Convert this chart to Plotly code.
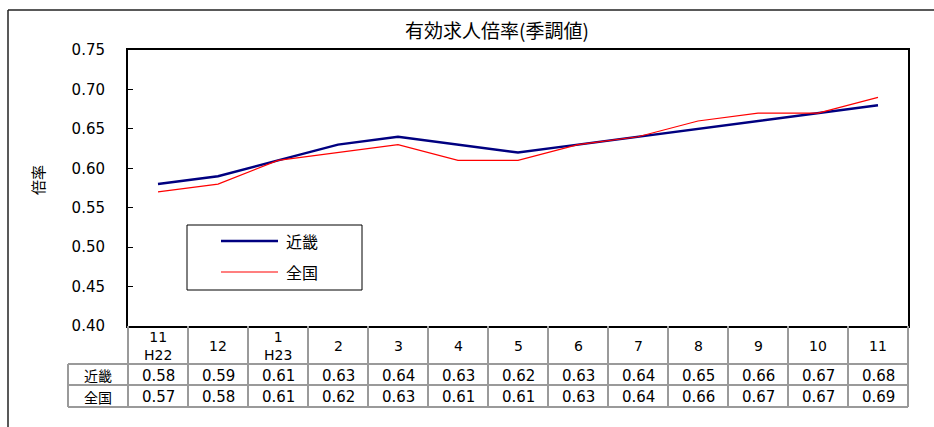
import plotly.graph_objects as go

# ---- data ----
months = ["11<br>H22", "12", "1<br>H23", "2", "3", "4", "5", "6", "7", "8", "9", "10", "11"]
kinki = [0.58, 0.59, 0.61, 0.63, 0.64, 0.63, 0.62, 0.63, 0.64, 0.65, 0.66, 0.67, 0.68]
zenkoku = [0.57, 0.58, 0.61, 0.62, 0.63, 0.61, 0.61, 0.63, 0.64, 0.66, 0.67, 0.67, 0.69]
series_names = ["近畿", "全国"]
y_ticks = [0.40, 0.45, 0.50, 0.55, 0.60, 0.65, 0.70, 0.75]

# ---- layout constants (pixels) ----
W, H = 934, 427
L, R, T, B = 128, 908, 50, 326
PW, PH = R - L, B - T
n = len(months)
cw = PW / n

def px(x):
    return (x - L) / PW

def py(y):
    return (B - y) / PH

NUM_FONT = "DejaVu Sans"
CJK_FONT = "Noto Sans CJK JP"
NAVY = "#000080"
RED = "#ff0000"
GRID = "#9a9a9a"

x_idx = list(range(n))
fig = go.Figure()
fig.add_trace(go.Scatter(x=x_idx, y=kinki, mode="lines", name=series_names[0],
                         line=dict(color=NAVY, width=2.5), showlegend=False))
fig.add_trace(go.Scatter(x=x_idx, y=zenkoku, mode="lines", name=series_names[1],
                         line=dict(color=RED, width=1.2), showlegend=False))

shapes = []
ann = []

def text(x, y, s, font, size, xanchor="center", angle=0):
    ann.append(dict(x=x, y=y, xref="paper", yref="paper", text=s, showarrow=False,
                    xanchor=xanchor, yanchor="middle", textangle=angle,
                    font=dict(family=font, size=size, color="#000")))

# outer frame (left + top edges visible)
shapes.append(dict(type="line", xref="paper", yref="paper", x0=px(8), x1=px(8),
                   y0=py(10), y1=py(430), line=dict(color="#222", width=1.5)))
shapes.append(dict(type="line", xref="paper", yref="paper", x0=px(8), x1=px(940),
                   y0=py(10), y1=py(10), line=dict(color="#222", width=1.5)))

# data table
r0, r1, r2, r3 = 326, 364, 385, 407
lab_left = 68
for k in range(n + 1):
    xx = px(L + k * cw)
    shapes.append(dict(type="line", xref="paper", yref="paper", x0=xx, x1=xx,
                       y0=py(r0), y1=py(r3), line=dict(color=GRID, width=2)))
shapes.append(dict(type="line", xref="paper", yref="paper", x0=px(lab_left), x1=px(lab_left),
                   y0=py(r1), y1=py(r3), line=dict(color=GRID, width=2)))
for yy in (r1, r2, r3):
    shapes.append(dict(type="line", xref="paper", yref="paper", x0=px(lab_left), x1=px(R),
                       y0=py(yy), y1=py(yy), line=dict(color=GRID, width=2)))

for i, m in enumerate(months):
    xc = (i + 0.5) / n
    text(xc, py((r0 + r1) / 2 + 1), m, NUM_FONT, 14)
    text(xc, py((r1 + r2) / 2 + 1), f"{kinki[i]:.2f}", NUM_FONT, 15)
    text(xc, py((r2 + r3) / 2 + 1), f"{zenkoku[i]:.2f}", NUM_FONT, 15)
for nm, yy in zip(series_names, [(r1 + r2) / 2, (r2 + r3) / 2]):
    text(px((lab_left + L) / 2), py(yy + 0.5), nm, CJK_FONT, 14)

# legend box
shapes.append(dict(type="rect", xref="paper", yref="paper", x0=px(187), x1=px(362),
                   y0=py(225), y1=py(290), line=dict(color="#000", width=1), fillcolor="white"))
leg_rows = [(241, NAVY, 2.5), (272, RED, 1.2)]
for (yy, col, wd), nm in zip(leg_rows, series_names):
    shapes.append(dict(type="line", xref="paper", yref="paper", x0=px(221), x1=px(278),
                       y0=py(yy), y1=py(yy), line=dict(color=col, width=wd)))
    text(px(284), py(yy), nm, CJK_FONT, 16, xanchor="left")

# y-axis title
text(px(37), py(180), "倍率", CJK_FONT, 15, angle=-90)

fig.update_layout(
    width=W, height=H,
    margin=dict(l=L, r=W - R, t=T, b=H - B, pad=0),
    paper_bgcolor="white", plot_bgcolor="white",
    title=dict(text="有効求人倍率(季調値)", x=497 / W, xanchor="center", y=1 - 31 / H, yanchor="middle",
               yref="container", font=dict(family=CJK_FONT, size=19, color="#000")),
    shapes=shapes, annotations=ann, showlegend=False,
    xaxis=dict(range=[-0.5, n - 0.5], showticklabels=False, ticks="", showgrid=False,
               zeroline=False, showline=True, linecolor="#000", linewidth=1.5, mirror=True,
               fixedrange=True),
    yaxis=dict(range=[0.40, 0.75], tickvals=y_ticks, tickformat=".2f", ticks="inside",
               ticklen=5, tickcolor="#000", showgrid=False, zeroline=False, showline=True,
               linecolor="#000", linewidth=2, mirror=True, ticklabelstandoff=18,
               tickfont=dict(family=NUM_FONT, size=15, color="#000"), fixedrange=True),
)

fig.write_html("out.html", config={"displayModeBar": False})
